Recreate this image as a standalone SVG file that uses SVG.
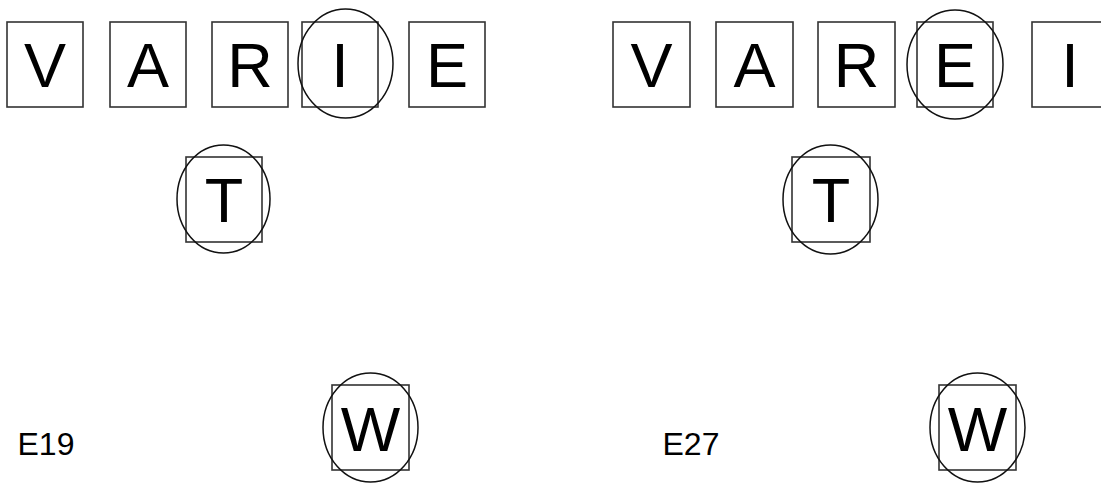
<svg xmlns="http://www.w3.org/2000/svg" width="1101" height="484" viewBox="0 0 1101 484">
<style>
.box{fill:none;stroke:#333;stroke-width:1.6}
.ring{fill:none;stroke:#111;stroke-width:1.5}
.big{font-family:"Liberation Sans",Arial,sans-serif;font-size:63px;text-anchor:middle;fill:#000}
.lab{font-family:"Liberation Sans",Arial,sans-serif;font-size:32px;fill:#000}
</style>
<rect width="1101" height="484" fill="#fff"/>
<g id="left">
<g id="L-V"><rect class="box" x="7" y="22" width="76" height="85"/><text class="big" x="45" y="87">V</text></g>
<g id="L-A"><rect class="box" x="110" y="22" width="76" height="85"/><text class="big" x="148" y="87">A</text></g>
<g id="L-R"><rect class="box" x="212" y="22" width="76" height="85"/><text class="big" x="250" y="87">R</text></g>
<g id="L-I"><rect class="box" x="302" y="22" width="76" height="85"/><text class="big" x="340" y="87">I</text><ellipse class="ring" cx="345.5" cy="63.5" rx="47.5" ry="54.5"/></g>
<g id="L-E"><rect class="box" x="409" y="22" width="76" height="85"/><text class="big" x="447" y="87">E</text></g>
<g id="L-T"><rect class="box" x="186" y="157" width="76" height="85"/><text class="big" x="224" y="222">T</text><ellipse class="ring" cx="223.5" cy="199" rx="46.5" ry="54"/></g>
<g id="L-W"><rect class="box" x="332" y="385" width="77" height="85"/><text class="big" x="370.5" y="451">W</text><ellipse class="ring" cx="370.5" cy="427.5" rx="47.5" ry="54.5"/></g>
<g id="L-label"><text class="lab" x="17.5" y="455">E19</text></g>
</g>
<g id="right">
<g id="R-V"><rect class="box" x="613" y="22" width="77" height="85"/><text class="big" x="651.5" y="87">V</text></g>
<g id="R-A"><rect class="box" x="716" y="22" width="77" height="85"/><text class="big" x="754.5" y="87">A</text></g>
<g id="R-R"><rect class="box" x="818" y="22" width="77" height="85"/><text class="big" x="856.5" y="87">R</text></g>
<g id="R-E"><rect class="box" x="917" y="22" width="76" height="85"/><text class="big" x="955" y="87">E</text><ellipse class="ring" cx="955" cy="64.5" rx="48" ry="54.5"/></g>
<g id="R-I"><rect class="box" x="1032" y="22" width="76" height="85"/><text class="big" x="1070" y="87">I</text></g>
<g id="R-T"><rect class="box" x="792" y="157" width="78" height="85"/><text class="big" x="831" y="222">T</text><ellipse class="ring" cx="830.5" cy="199.5" rx="47.5" ry="54.5"/></g>
<g id="R-W"><rect class="box" x="939" y="385" width="77" height="85"/><text class="big" x="977.5" y="451">W</text><ellipse class="ring" cx="977.5" cy="427.5" rx="47.5" ry="54.5"/></g>
<g id="R-label"><text class="lab" x="662.5" y="455">E27</text></g>
</g>
<g id="connectors"/>
</svg>
